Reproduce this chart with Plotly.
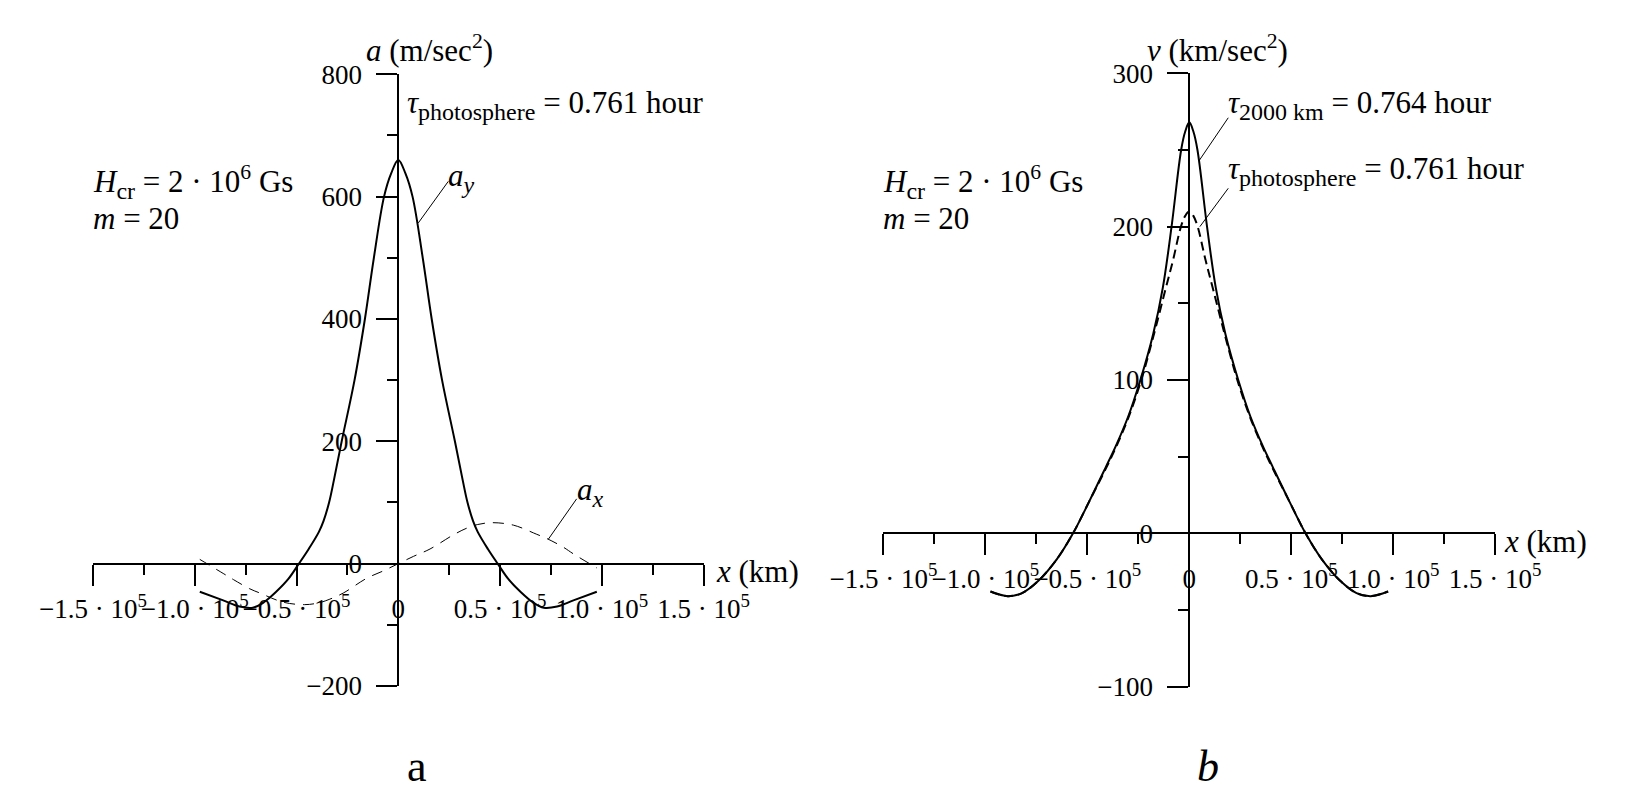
import plotly.graph_objects as go

# panel a: acceleration components (x in km, a in m/sec^2)
ay_x = [-97500, -86000, -78000, -71500, -66000, -60000, -54000, -48800, -44000, -39000,
        -36700, -34000, -31600, -27800, -21500, -16400, -12000, -7000, -3500, 0,
        3500, 7000, 12000, 16400, 21500, 27800, 31600, 34000, 36700, 39000,
        44000, 48800, 54000, 60000, 66000, 71500, 78000, 86000, 97500]
ay_val = [-46, -60, -70, -72, -63, -46, -25, 0, 24, 52,
          70, 100, 137, 200, 300, 400, 500, 600, 638, 660,
          638, 600, 500, 400, 300, 200, 137, 100, 70, 52,
          24, 0, -25, -46, -63, -72, -70, -60, -46]

ax_x = [-97500, -86000, -81000, -73000, -68000, -56500, -46000, -39000, -33600, -27000,
        -15600, -7500, 0, 7500, 15600, 27000, 33600, 39000, 46000, 56500, 68000, 73000,
        81000, 86000, 97500]
ax_val = [7, -16, -26, -41, -48, -63, -67, -64, -58, -48,
          -24, -12, 0, 12, 24, 47, 58, 64, 67, 63, 48, 41,
          27, 16, -7]

# panel b: velocity, tau_2000km (solid) and tau_photosphere (dashed)
v_x = [-97500, -89000, -82000, -74000, -65000, -57000, -49000, -41000, -36000, -30000,
       -24000, -17700, -13000, -8700, -4000, -2000, 0, 2000, 4000, 8700, 13000, 17700,
       24000, 30000, 36000, 41000, 49000, 57000, 65000, 74000, 82000, 89000, 97500]
v_2000 = [-38, -41, -39, -31, -17, 0, 21, 43, 57, 76,
          100, 130, 160, 200, 250, 262, 268, 262, 250, 200, 160, 130,
          100, 76, 57, 43, 21, 0, -17, -31, -39, -41, -38]

vp_x = [-97500, -89000, -82000, -74000, -65000, -57000, -49000, -41000, -36000, -30000,
        -24000, -17700, -11700, -8000, -4100, -2000, 0, 2000, 4100, 8000, 11700, 17700,
        24000, 30000, 36000, 41000, 49000, 57000, 65000, 74000, 82000, 89000, 97500]
v_phot = [-38, -41, -39, -31, -17, 0, 21, 42, 56, 75,
          98, 128, 159, 178, 200, 207, 210, 207, 200, 178, 159, 128,
          98, 75, 56, 42, 21, 0, -17, -31, -39, -41, -38]

x_major = [-150000, -100000, -50000, 0, 50000, 100000, 150000]
x_major_text = ["−1.5 · 10<sup>5</sup>", "−1.0 · 10<sup>5</sup>", "−0.5 · 10<sup>5</sup>", "0",
                "0.5 · 10<sup>5</sup>", "1.0 · 10<sup>5</sup>", "1.5 · 10<sup>5</sup>"]
x_minor = [-125000, -75000, -25000, 25000, 75000, 125000]

ya_major = [-200, 0, 200, 400, 600, 800]
ya_minor = [-100, 100, 300, 500, 700]
yb_major = [-100, 0, 100, 200, 300]
yb_minor = [-50, 50, 150, 250]

FONT = "Liberation Serif"
PAGE = 8  # default body margin of the html page
W, H = 1644 - 2 * PAGE, 812 - 2 * PAGE


def px(p):
    return (p - PAGE) / W


def py(p):
    return 1 - (p - PAGE) / H


def xaxis_style(lo, hi, pos):
    return dict(
        domain=[px(lo), px(hi)], range=[-150000, 150000], anchor="free", position=py(pos),
        showgrid=False, zeroline=False, showline=True, linewidth=2, linecolor="black",
        automargin=False, tickangle=0,
        tickmode="array", tickvals=x_major, ticktext=x_major_text,
        ticks="outside", ticklen=21, tickwidth=2, tickcolor="black",
        minor=dict(tickmode="array", tickvals=x_minor, ticks="outside", ticklen=10,
                   tickwidth=2, tickcolor="black"),
        tickfont=dict(family=FONT, size=27, color="black"),
    )


def yaxis_style(lo, hi, rng, pos, major, minor):
    return dict(
        domain=[py(lo), py(hi)], range=rng, anchor="free", position=px(pos),
        showgrid=False, zeroline=False, showline=True, linewidth=2, linecolor="black",
        automargin=False, ticklabelstandoff=9,
        tickmode="array", tickvals=major, ticktext=[str(v).replace("-", "−") for v in major],
        ticks="outside", ticklen=21, tickwidth=2, tickcolor="black",
        minor=dict(tickmode="array", tickvals=minor, ticks="outside", ticklen=10,
                   tickwidth=2, tickcolor="black"),
        tickfont=dict(family=FONT, size=27, color="black"),
    )


fig = go.Figure()
fig.add_trace(go.Scatter(x=ay_x, y=ay_val, mode="lines", line=dict(color="black", width=2, shape="spline"),
                         xaxis="x", yaxis="y"))
fig.add_trace(go.Scatter(x=ax_x, y=ax_val, mode="lines",
                         line=dict(color="black", width=1, dash="11px,8px", shape="spline"),
                         xaxis="x", yaxis="y"))
fig.add_trace(go.Scatter(x=vp_x, y=v_phot, mode="lines",
                         line=dict(color="black", width=2, dash="9px,5px", shape="spline"),
                         xaxis="x2", yaxis="y2"))
fig.add_trace(go.Scatter(x=v_x, y=v_2000, mode="lines", line=dict(color="black", width=2, shape="spline"),
                         xaxis="x2", yaxis="y2"))

txt = dict(family=FONT, size=31, color="black")


def sub(s):
    return "<sub><span style='font-size:24px'>" + s + "</span></sub>"


def note(x, y, text, xanchor="left", size=None):
    f = dict(txt)
    if size:
        f["size"] = size
    fig.add_annotation(x=x, y=y, xref="paper", yref="paper", text=text, showarrow=False,
                       xanchor=xanchor, yanchor="middle", font=f)


# panel a texts
note(px(429), py(49), "<i>a</i> (m/sec<sup>2</sup>)", "center")
note(px(405), py(105), "<i>τ</i>" + sub("photosphere") + " = 0.761 hour")
note(px(91), py(182), "<i>H</i>" + sub("cr") + " = 2 · 10<sup>6</sup> Gs")
note(px(91), py(219), "<i>m</i> = 20")
note(px(446), py(178), "<i>a</i>" + sub("<i>y</i>"))
note(px(575), py(492), "<i>a</i>" + sub("<i>x</i>"))
note(px(757), py(571), "<i>x</i> (km)", "center")
note(px(417), py(766), "a", "center", size=44)

# panel b texts
note(px(1217), py(49), "<i>v</i> (km/sec<sup>2</sup>)", "center")
note(px(1226), py(105), "<i>τ</i>" + sub("2000 km") + " = 0.764 hour")
note(px(1226), py(171), "<i>τ</i>" + sub("photosphere") + " = 0.761 hour")
note(px(881), py(182), "<i>H</i>" + sub("cr") + " = 2 · 10<sup>6</sup> Gs")
note(px(881), py(219), "<i>m</i> = 20")
note(px(1545), py(541), "<i>x</i> (km)", "center")
note(px(1208), py(766), "<i>b</i>", "center", size=44)

# leader lines
leaders = [
    ("x", "y", 24558, 625, 9823, 557),
    ("x", "y", 87600, 106, 73700, 40),
    ("x2", "y2", 19100, 271, 4800, 243),
    ("x2", "y2", 19100, 225, 5200, 200),
]
for xr, yr, x0, y0, x1, y1 in leaders:
    fig.add_shape(type="line", xref=xr, yref=yr, x0=x0, y0=y0, x1=x1, y1=y1,
                  line=dict(color="black", width=1))

fig.update_layout(
    width=W, height=H, margin=dict(l=0, r=0, t=0, b=0, autoexpand=False),
    paper_bgcolor="white", plot_bgcolor="white", showlegend=False,
    xaxis=xaxis_style(92.9, 703.7, 564),
    yaxis=yaxis_style(686, 74.3, [-200, 800], 398.3, ya_major, ya_minor),
    xaxis2=xaxis_style(883.4, 1495.2, 533.3),
    yaxis2=yaxis_style(686.6, 73.3, [-100, 300], 1189.3, yb_major, yb_minor),
)

fig.write_html("out.html")
